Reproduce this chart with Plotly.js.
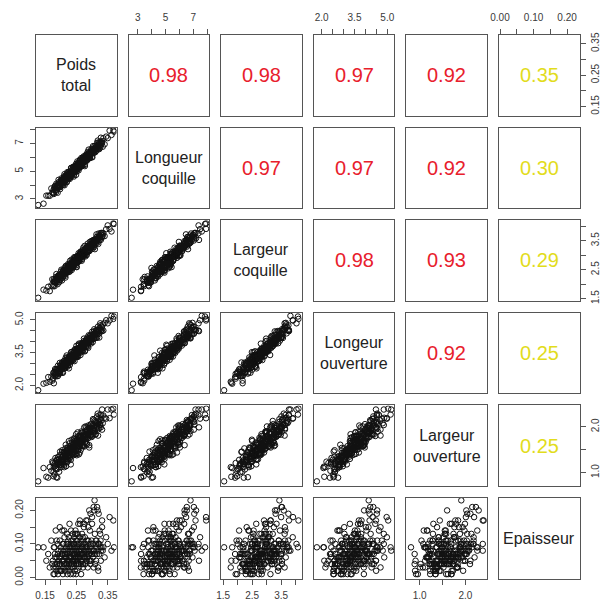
<!DOCTYPE html>
<html><head><meta charset="utf-8">
<script src="https://cdn.plot.ly/plotly-3.0.1.min.js"></script>
<style>html,body{margin:0;padding:0;background:#fff}#chart{width:600px;height:603px}</style>
</head><body><div id="chart"></div>
<script>
const varNames = ["Poids<br>total","Longueur<br>coquille","Largeur<br>coquille","Longeur<br>ouverture","Largeur<br>ouverture","Epaisseur"];

const poidsTotal = [0.128,0.145,0.154,0.160,0.165,0.170,0.173,0.177,0.180,0.182,
0.185,0.187,0.189,0.191,0.193,0.195,0.197,0.198,0.200,0.202,
0.203,0.205,0.206,0.207,0.209,0.210,0.211,0.212,0.213,0.214,
0.215,0.216,0.217,0.218,0.219,0.220,0.221,0.222,0.223,0.224,
0.225,0.226,0.226,0.227,0.228,0.229,0.230,0.231,0.232,0.233,
0.234,0.235,0.235,0.236,0.237,0.238,0.239,0.240,0.241,0.241,
0.242,0.243,0.244,0.245,0.245,0.246,0.247,0.248,0.248,0.249,
0.250,0.250,0.251,0.251,0.252,0.253,0.253,0.254,0.255,0.256,
0.256,0.257,0.258,0.259,0.260,0.261,0.262,0.262,0.263,0.264,
0.265,0.266,0.267,0.268,0.269,0.270,0.271,0.272,0.273,0.274,
0.275,0.276,0.277,0.278,0.279,0.280,0.281,0.282,0.283,0.284,
0.285,0.286,0.288,0.289,0.290,0.291,0.293,0.294,0.295,0.297,
0.298,0.300,0.301,0.303,0.305,0.306,0.308,0.310,0.312,0.314,
0.316,0.318,0.320,0.323,0.326,0.329,0.332,0.336,0.340,0.345,
0.350,0.356,0.362,0.368,0.370,
0.175,0.177,0.178,0.180,0.181,0.183,0.184,0.186,0.187,0.188,
0.190,0.191,0.193,0.194,0.195,0.197,0.198,0.200,0.201,0.202,
0.204,0.205,0.207,0.208,0.209,0.211,0.212,0.214,0.215,0.216,
0.218,0.219,0.221,0.222,0.223,0.225,0.226,0.228,0.229,0.230,
0.232,0.233,0.235,0.236,0.237,0.239,0.240,0.242,0.243,0.244,
0.246,0.247,0.249,0.250,0.251,0.253,0.254,0.256,0.257,0.258,
0.260,0.261,0.263,0.264,0.265,0.267,0.268,0.270,0.271,0.272,
0.274,0.275,0.277,0.278,0.279,0.281,0.282,0.284,0.285,0.286,
0.288,0.289,0.291,0.292,0.293,0.295,0.296,0.298,0.299,0.300,
0.302,0.303,0.305,0.306,0.307,0.309,0.310,0.312,0.313,0.314,
0.316,0.317,0.319,0.320,0.321,0.323,0.324,0.326,0.327,0.328,
0.330,0.332,0.334];

const longueurCoquille = [2.56,2.66,3.24,3.24,3.23,3.76,3.47,3.42,3.77,3.95,
3.50,3.82,4.01,3.79,4.38,3.94,4.13,3.71,4.30,4.14,
4.38,4.09,4.29,4.03,4.44,4.62,4.28,3.99,4.47,4.59,
4.29,4.70,4.48,4.62,4.24,4.57,4.93,4.49,4.67,4.60,
4.94,4.50,4.78,4.68,4.93,4.45,4.91,4.83,4.66,5.24,
4.78,4.96,4.64,5.07,5.15,4.89,4.97,5.32,4.88,5.08,
4.62,5.20,5.11,5.37,4.99,5.23,4.95,5.36,5.14,5.54,
5.26,5.12,5.44,4.98,5.39,5.27,5.71,5.15,5.41,5.28,
5.60,5.06,5.56,5.44,5.39,5.75,5.31,5.55,5.65,5.32,
5.66,5.96,5.56,5.49,5.85,5.67,5.99,5.44,5.86,5.80,
5.66,6.03,5.37,5.93,6.05,5.82,6.18,5.92,5.76,6.13,
6.03,6.39,5.92,6.20,6.02,6.38,5.95,6.27,6.39,6.22,
6.62,6.35,6.01,6.61,6.54,6.34,6.81,6.53,6.74,6.48,
6.75,7.21,6.70,7.04,6.71,7.10,7.05,7.38,6.95,7.50,
7.39,7.93,7.62,7.94,7.86,
3.45,3.66,3.36,3.81,3.89,3.65,3.74,4.10,3.66,3.89,
3.45,4.03,3.96,4.22,3.86,4.13,3.85,4.28,4.08,4.48,
4.23,4.11,4.45,4.02,4.42,4.32,4.79,4.25,4.51,4.38,
4.74,4.20,4.73,4.61,4.55,4.94,4.50,4.79,4.89,4.55,
4.92,5.22,4.84,4.77,5.13,4.97,5.30,4.76,5.18,5.13,
5.01,5.37,4.74,5.30,5.42,5.21,5.57,5.34,5.18,5.54,
5.47,5.83,5.35,5.64,5.46,5.84,5.39,5.73,5.85,5.66,
6.08,5.78,5.47,6.05,5.95,5.78,6.22,5.95,6.13,5.85,
6.12,6.56,6.04,6.35,5.97,6.33,6.24,6.52,6.02,6.49,
6.31,6.81,6.34,6.54,6.52,6.63,6.37,6.80,6.68,6.58,
7.05,6.71,6.61,6.92,7.08,6.60,6.91,7.09,6.85,7.42,
6.98,7.17,6.77];

const largeurCoquille = [1.53,1.81,1.78,1.91,1.76,1.96,2.17,1.98,2.09,2.06,
2.25,2.05,2.21,2.17,2.30,2.07,2.31,2.27,2.20,2.50,
2.27,2.37,2.22,2.43,2.48,2.35,2.39,2.56,2.34,2.46,
2.23,2.52,2.47,2.60,2.42,2.54,2.40,2.60,2.50,2.70,
2.56,2.50,2.65,2.43,2.64,2.58,2.81,2.53,2.66,2.59,
2.76,2.49,2.73,2.67,2.64,2.82,2.60,2.73,2.78,2.60,
2.77,2.93,2.73,2.69,2.86,2.77,2.93,2.65,2.85,2.82,
2.75,2.92,2.59,2.86,2.92,2.80,2.97,2.84,2.76,2.94,
2.88,3.07,2.82,2.96,2.87,3.05,2.82,2.97,3.03,2.93,
3.13,2.98,2.81,3.10,3.05,2.95,3.18,3.03,3.12,2.98,
3.10,3.32,3.05,3.20,3.01,3.18,3.13,3.26,3.01,3.24,
3.14,3.40,3.16,3.26,3.25,3.29,3.17,3.37,3.31,3.27,
3.49,3.34,3.28,3.44,3.53,3.28,3.44,3.53,3.42,3.72,
3.50,3.59,3.39,3.69,3.62,3.77,3.63,3.76,3.66,3.90,
4.03,3.91,3.82,4.10,4.08,
1.93,2.09,2.17,1.93,2.08,2.17,2.05,2.35,2.12,2.20,
2.00,2.28,2.20,2.32,2.16,2.27,2.14,2.35,2.44,2.27,
2.13,2.37,2.44,2.29,2.49,2.39,2.46,2.29,2.45,2.63,
2.42,2.51,2.48,2.65,2.43,2.59,2.54,2.68,2.44,2.67,
2.64,2.55,2.85,2.62,2.71,2.57,2.78,2.83,2.71,2.75,
2.93,2.71,2.83,2.60,2.89,2.85,2.98,2.81,2.94,2.80,
3.01,2.91,3.12,2.98,2.92,3.09,2.87,3.08,3.03,3.26,
2.99,3.12,3.06,3.23,2.96,3.22,3.16,3.14,3.32,3.11,
3.25,3.30,3.14,3.31,3.46,3.27,3.23,3.42,3.33,3.50,
3.23,3.44,3.42,3.35,3.53,3.21,3.49,3.56,3.44,3.63,
3.51,3.43,3.62,3.57,3.75,3.51,3.65,3.57,3.75,3.53,
3.70,3.77,3.68];

const longeurOuverture = [1.78,2.08,2.12,2.38,2.17,2.40,2.22,2.56,2.44,2.75,
2.57,2.50,2.75,2.43,2.75,2.67,3.03,2.61,2.82,2.72,
2.98,2.59,2.96,2.87,2.84,3.11,2.78,2.97,3.05,2.79,
3.04,3.27,2.97,2.91,3.18,3.04,3.28,2.86,3.17,3.13,
3.02,3.29,2.78,3.20,3.29,3.11,3.38,3.18,3.06,3.33,
3.25,3.52,3.13,3.34,3.21,3.47,3.13,3.37,3.46,3.29,
3.59,3.37,3.11,3.54,3.45,3.30,3.63,3.41,3.53,3.32,
3.50,3.81,3.40,3.61,3.33,3.58,3.49,3.69,3.31,3.66,
3.49,3.86,3.49,3.64,3.62,3.68,3.49,3.77,3.68,3.60,
3.93,3.68,3.59,3.81,3.93,3.55,3.78,3.90,3.72,4.14,
3.79,3.91,3.59,4.01,3.88,4.06,3.82,3.96,3.77,4.05,
4.19,3.93,3.72,4.08,4.17,3.94,4.26,4.09,4.19,3.92,
4.16,4.45,4.11,4.26,4.22,4.47,4.15,4.39,4.33,4.52,
4.18,4.54,4.49,4.38,4.84,4.53,4.69,4.51,4.86,4.98,
4.84,4.97,5.18,5.04,5.15,
2.31,2.59,2.10,2.53,2.62,2.45,2.72,2.54,2.42,2.69,
2.63,2.90,2.54,2.75,2.61,2.89,2.55,2.80,2.89,2.74,
3.05,2.83,2.58,3.02,2.94,2.81,3.14,2.92,3.06,2.85,
3.04,3.37,2.98,3.20,2.92,3.19,3.11,3.32,2.94,3.29,
3.15,3.52,3.16,3.31,3.30,3.37,3.17,3.49,3.40,3.32,
3.66,3.41,3.33,3.56,3.67,3.31,3.54,3.67,3.49,3.91,
3.58,3.70,3.39,3.81,3.68,3.87,3.63,3.79,3.60,3.88,
4.03,3.78,3.56,3.92,4.01,3.80,4.10,3.95,4.05,3.77,
4.02,4.29,3.97,4.11,4.05,4.31,3.98,4.22,4.15,4.33,
3.98,4.32,4.28,4.14,4.57,4.24,4.38,4.17,4.48,4.54,
4.36,4.42,4.69,4.35,4.52,4.19,4.62,4.56,4.75,4.48,
4.68,4.48,4.79];

const largeurOuverture = [0.81,1.10,0.91,0.89,1.12,1.04,1.24,0.92,1.18,1.14,
1.07,1.28,0.89,1.23,1.30,1.16,1.38,1.22,1.12,1.34,
1.27,1.49,1.19,1.35,1.24,1.45,1.17,1.36,1.42,1.30,
1.53,1.35,1.14,1.48,1.42,1.29,1.55,1.37,1.47,1.29,
1.43,1.69,1.36,1.53,1.30,1.50,1.43,1.58,1.28,1.55,
1.42,1.72,1.41,1.52,1.50,1.55,1.38,1.62,1.54,1.47,
1.73,1.52,1.44,1.62,1.70,1.40,1.57,1.66,1.50,1.84,
1.55,1.64,1.38,1.70,1.59,1.73,1.53,1.64,1.48,1.70,
1.80,1.59,1.40,1.69,1.75,1.57,1.80,1.66,1.74,1.50,
1.69,1.90,1.63,1.74,1.68,1.88,1.61,1.79,1.72,1.86,
1.57,1.84,1.78,1.67,2.01,1.73,1.84,1.65,1.90,1.94,
1.78,1.82,2.03,1.76,1.88,1.60,1.95,1.89,2.04,1.82,
1.96,1.80,2.03,1.91,2.15,1.98,1.91,2.10,1.84,2.08,
2.01,2.29,1.95,2.12,2.04,2.26,1.94,2.25,2.20,2.18,
2.38,2.19,2.38,2.40,2.27,
1.21,1.01,1.13,0.96,1.20,1.32,1.09,0.90,1.20,1.27,
1.08,1.34,1.19,1.28,1.02,1.23,1.46,1.17,1.29,1.23,
1.45,1.16,1.35,1.28,1.43,1.12,1.41,1.36,1.24,1.61,
1.31,1.42,1.23,1.49,1.54,1.37,1.42,1.64,1.34,1.48,
1.18,1.55,1.49,1.65,1.41,1.57,1.38,1.64,1.50,1.76,
1.58,1.49,1.70,1.41,1.66,1.58,1.88,1.51,1.68,1.58,
1.80,1.44,1.77,1.68,1.64,1.87,1.58,1.75,1.81,1.58,
1.80,1.99,1.73,1.67,1.90,1.79,1.99,1.62,1.89,1.85,
1.76,1.98,1.55,1.91,1.98,1.83,2.06,1.89,1.78,2.01,
1.94,2.17,1.84,2.02,1.90,2.13,1.83,2.04,2.11,1.97,
2.23,2.03,1.81,2.18,2.11,1.98,2.26,2.06,2.18,1.99,
2.14,2.38,2.08];

const epaisseur = [0.09,0.09,0.05,0.07,0.03,0.11,0.04,0.01,0.09,0.06,
0.03,0.11,0.04,0.07,0.02,0.06,0.15,0.04,0.09,0.02,
0.07,0.05,0.10,0.01,0.08,0.04,0.14,0.04,0.07,0.06,
0.07,0.03,0.09,0.06,0.04,0.13,0.05,0.03,0.08,0.11,
0.02,0.06,0.09,0.04,0.16,0.05,0.08,0.01,0.10,0.06,
0.11,0.04,0.07,0.03,0.09,0.13,0.05,0.01,0.08,0.10,
0.04,0.12,0.06,0.09,0.02,0.07,0.14,0.05,0.08,0.06,
0.13,0.04,0.09,0.06,0.11,0.02,0.10,0.07,0.04,0.16,
0.06,0.08,0.03,0.10,0.12,0.06,0.07,0.16,0.05,0.08,
0.01,0.10,0.07,0.13,0.05,0.09,0.04,0.11,0.07,0.15,
0.08,0.06,0.12,0.04,0.10,0.07,0.17,0.05,0.09,0.06,
0.17,0.03,0.11,0.08,0.07,0.20,0.05,0.09,0.19,0.05,
0.10,0.16,0.07,0.06,0.21,0.08,0.23,0.04,0.11,0.09,
0.07,0.20,0.02,0.10,0.13,0.08,0.15,0.09,0.06,0.12,
0.10,0.18,0.08,0.17,0.09,
0.05,0.03,0.09,0.01,0.07,0.04,0.14,0.02,0.06,0.04,
0.10,0.01,0.08,0.05,0.04,0.11,0.02,0.06,0.08,0.02,
0.07,0.14,0.05,0.03,0.10,0.05,0.12,0.02,0.08,0.06,
0.04,0.10,0.01,0.07,0.10,0.05,0.12,0.06,0.03,0.09,
0.06,0.14,0.04,0.08,0.05,0.11,0.03,0.07,0.10,0.05,
0.13,0.06,0.01,0.11,0.08,0.05,0.13,0.06,0.09,0.04,
0.08,0.17,0.06,0.11,0.04,0.09,0.07,0.12,0.03,0.10,
0.06,0.16,0.06,0.09,0.08,0.09,0.05,0.11,0.08,0.06,
0.15,0.07,0.05,0.10,0.14,0.04,0.08,0.11,0.07,0.18,
0.08,0.10,0.03,0.20,0.08,0.13,0.07,0.10,0.05,0.11,
0.21,0.08,0.03,0.10,0.19,0.07,0.14,0.09,0.11,0.05,
0.09,0.17,0.08];

// correlations, upper triangle read row by row
const corrValues = [0.98,0.98,0.97,0.92,0.35,
                    0.97,0.97,0.92,0.30,
                    0.98,0.93,0.29,
                    0.92,0.25,
                    0.25];

const tickVals = [
  [0.15,0.20,0.25,0.30,0.35],
  [3,4,5,6,7,8],
  [1.5,2.0,2.5,3.0,3.5,4.0],
  [2.0,2.5,3.0,3.5,4.0,4.5,5.0],
  [1.0,1.5,2.0],
  [0.00,0.05,0.10,0.15,0.20]
];
const tickText = [
  ["0.15","","0.25","","0.35"],
  ["3","","5","","7",""],
  ["1.5","","2.5","","3.5",""],
  ["2.0","","","3.5","","","5.0"],
  ["1.0","","2.0"],
  ["0.00","","0.10","","0.20"]
];

const series = [poidsTotal, longueurCoquille, largeurCoquille, longeurOuverture, largeurOuverture, epaisseur];
const axisRanges = [[0.121,0.378],[2.34,8.15],[1.43,4.21],[1.64,5.32],[0.71,2.47],[-0.003,0.237]];

const W = 600, H = 603;
const n = 6, pitch = 92.6, size = 80.5, left0 = 36, top0 = 35;
const layout = {
  width: W, height: H, margin: {l:0, r:0, t:0, b:0},
  paper_bgcolor: '#fff', plot_bgcolor: '#fff', showlegend: false,
  font: {family: 'Liberation Sans, Arial, sans-serif', color: '#333'},
  annotations: []
};
const traces = [];
const redCol = '#e8202c', yelCol = '#e2dc1c';
let ci = 0;
for (let r = 0; r < n; r++) {
  for (let c = 0; c < n; c++) {
    const k = r * n + c + 1;
    const xl = left0 + pitch * c, xr = xl + size;
    const yt = top0 + pitch * r, yb = yt + size;
    const xd = [xl / W, xr / W], yd = [1 - yb / H, 1 - yt / H];
    const xTop = (r === 0 && c % 2 === 1), xBot = (r === n - 1 && c % 2 === 0);
    const yLeft = (c === 0 && r % 2 === 1), yRight = (c === n - 1 && r % 2 === 0);
    const common = {showgrid:false, zeroline:false, showline:true, mirror:true,
      linecolor:'#555', linewidth:1, ticklen:5, tickwidth:1, tickcolor:'#555',
      tickfont:{size:10, color:'#3a3a3a'}, fixedrange:true};
    layout['xaxis' + k] = Object.assign({}, common, {
      domain: xd, anchor: 'y' + k, range: axisRanges[c],
      side: xTop ? 'top' : 'bottom', ticklabelstandoff: xTop ? 4 : 2,
      ticks: (xTop || xBot) ? 'outside' : '', showticklabels: (xTop || xBot),
      tickmode: 'array', tickvals: tickVals[c], ticktext: tickText[c], tickangle: 0
    });
    layout['yaxis' + k] = Object.assign({}, common, {
      domain: yd, anchor: 'x' + k, range: axisRanges[r],
      side: yRight ? 'right' : 'left', ticklabelstandoff: yRight ? 1 : 3,
      ticks: (yLeft || yRight) ? 'outside' : '', showticklabels: (yLeft || yRight),
      tickmode: 'array', tickvals: tickVals[r], ticktext: tickText[r], tickangle: -90
    });
    const cx = (xd[0] + xd[1]) / 2, cy = (yd[0] + yd[1]) / 2;
    if (r > c) {
      traces.push({type:'scatter', mode:'markers', x: series[c], y: series[r],
        xaxis:'x' + k, yaxis:'y' + k, hoverinfo:'skip',
        marker:{symbol:'circle-open', size:5.5, color:'#111', line:{width:1, color:'#111'}}});
    } else {
      traces.push({type:'scatter', mode:'markers', x: [], y: [], xaxis:'x' + k, yaxis:'y' + k, hoverinfo:'skip'});
      if (r === c) {
        layout.annotations.push({xref:'paper', yref:'paper', x:cx, y:cy, text: varNames[r],
          showarrow:false, xanchor:'center', yanchor:'middle',
          font:{size:16, color:'#222', family:'Liberation Sans, Arial, sans-serif'}});
      } else {
        const v = corrValues[ci++];
        layout.annotations.push({xref:'paper', yref:'paper', x:cx, y:cy, text: v.toFixed(2),
          showarrow:false, xanchor:'center', yanchor:'middle',
          font:{size:20, color: v >= 0.5 ? redCol : yelCol, family:'Liberation Sans, Arial, sans-serif'}});
      }
    }
  }
}
Plotly.newPlot('chart', traces, layout, {displayModeBar:false, staticPlot:true});
</script>
</body></html>
